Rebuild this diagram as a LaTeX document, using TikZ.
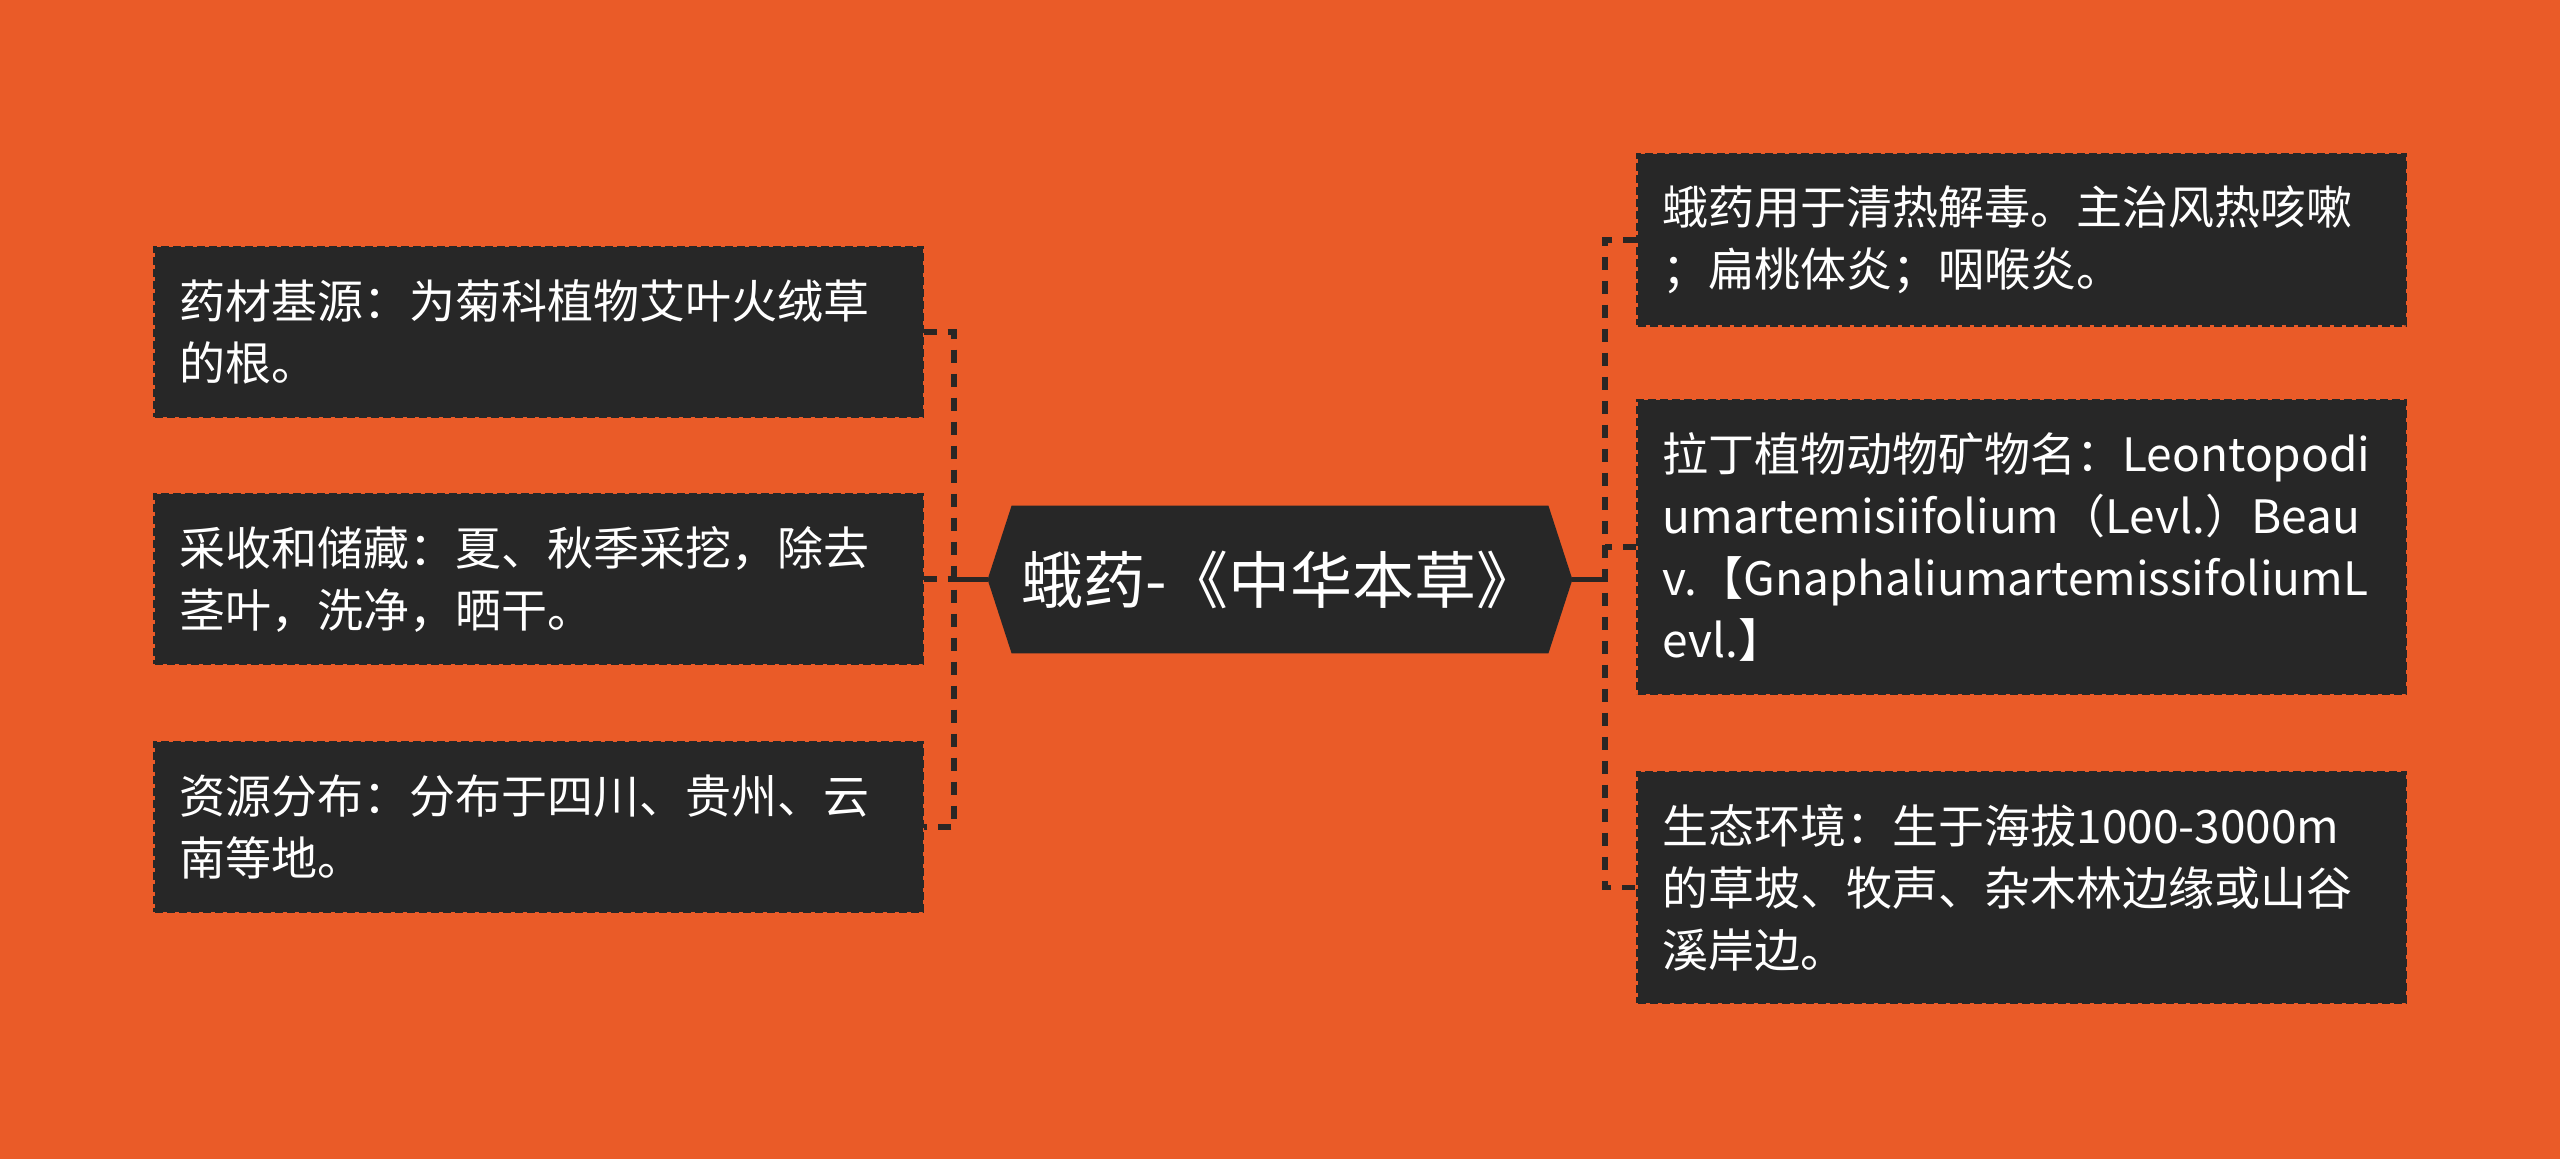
\documentclass[tikz,border=0pt]{standalone}
\usepackage{fontspec}
\setmainfont{Noto Sans CJK SC}
\usetikzlibrary{calc,backgrounds}
\definecolor{bgc}{HTML}{EA5B28}
\definecolor{boxc}{HTML}{272727}
\definecolor{linec}{HTML}{2A2624}
\begin{document}
\begin{tikzpicture}[x=0.5pt,y=-0.5pt,
  leaf/.style={fill=boxc, draw=boxc, dashed, dash pattern=on 4pt off 2pt,
    line width=1.2pt, text=white, text width=359pt, align=left,
    inner xsep=12.5pt, inner ysep=0pt, anchor=center,
    font=\fontsize{23pt}{31pt}\selectfont},
  dlink/.style={draw=linec, line width=2.8pt, dash pattern=on 6.5pt off 5.5pt},
  slink/.style={draw=linec, line width=2.8pt},
  titlenode/.style={text=white, inner sep=0pt, minimum width=268pt,
    minimum height=73.5pt, font=\fontsize{31pt}{36pt}\selectfont}
]
\begin{scope}[on background layer]
\fill[bgc] (0,0) rectangle (2560,1159);
\end{scope}
\useasboundingbox (0,0) rectangle (2560,1159);

% centre
\node[titlenode] (c) at (1280,579.5) {蛾药-《中华本草》};
\coordinate (cl) at ($(c.west)+(-12pt,0)$);
\coordinate (cr) at ($(c.east)+(12pt,0)$);
\begin{scope}[on background layer]
\fill[boxc] (c.north west) -- (c.north east) -- (cr) -- (c.south east)
  -- (c.south west) -- (cl) -- cycle;
\end{scope}

% left boxes
\node[leaf, minimum height=85pt] (l1) at (538.5,332) {药材基源：为菊科植物艾叶火绒草\\的根。};
\node[leaf, minimum height=85pt] (l2) at (538.5,579) {采收和储藏：夏、秋季采挖，除去\\茎叶，洗净，晒干。};
\node[leaf, minimum height=85pt] (l3) at (538.5,827) {资源分布：分布于四川、贵州、云\\南等地。};

% right boxes
\node[leaf, minimum height=85.5pt] (r1) at (2021.5,240) {蛾药用于清热解毒。主治风热咳嗽\\；扁桃体炎；咽喉炎。};
\node[leaf, minimum height=147pt] (r2) at (2021.5,547) {拉丁植物动物矿物名：Leontopodi\\umartemisiifolium（Levl.）Beau\\v.【GnaphaliumartemissifoliumL\\evl.】};
\node[leaf, minimum height=115.5pt] (r3) at (2021.5,887.5) {生态环境：生于海拔1000-3000m\\的草坡、牧声、杂木林边缘或山谷\\溪岸边。};

% left connectors
\coordinate (lj) at (954,579.5);
\draw[dlink] (l1.east) -- (l1.east -| lj) -- (l3.east -| lj) -- (l3.east);
\draw[dlink] (l2.east) -- (l2.east -| lj);
\draw[slink] (cl) -- (lj);

% right connectors
\coordinate (rj) at (1605,579.5);
\draw[dlink] (r1.west) -- (r1.west -| rj) -- (r3.west -| rj) -- (r3.west);
\draw[dlink] (r2.west) -- (r2.west -| rj);
\draw[slink] (cr) -- (rj);
\end{tikzpicture}
\end{document}
